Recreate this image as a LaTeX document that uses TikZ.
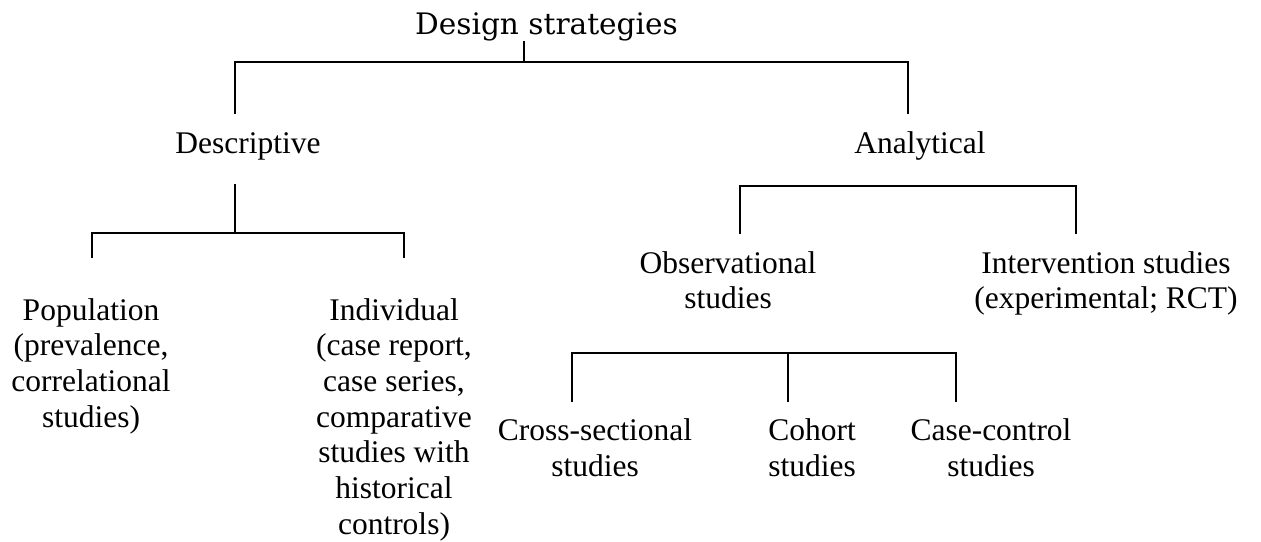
\documentclass[tikz,border=0pt]{standalone}
\usepackage{fontspec}
\setmainfont{Liberation Serif}
\newfontfamily\titlefont{DejaVu Serif}
\begin{document}
\begin{tikzpicture}[x=1pt,y=-1pt,
  lbl/.style={anchor=base,inner sep=0pt,align=center,
              font=\fontsize{31.5}{35.7}\selectfont},
  ttl/.style={anchor=base,inner sep=0pt,
              font=\titlefont\fontsize{29.6}{33}\selectfont},
  bracket/.style={line width=1.6pt,line cap=rect}]
\useasboundingbox (0,0) rectangle (1261,541);

% labels (anchored at the baseline of their last line)
\node[ttl] (root) at (546.5,34) {Design strategies};
\node[lbl] (desc) at (248,153) {Descriptive};
\node[lbl] (anal) at (920,153) {Analytical};
\node[lbl] (pop)  at (91,427.1)  {Population\\(prevalence,\\correlational\\studies)};
\node[lbl] (ind)  at (394,534.2) {Individual\\(case report,\\case series,\\comparative\\studies with\\historical\\controls)};
\node[lbl] (obs)  at (728,308.7) {Observational\\studies};
\node[lbl] (int)  at (1106,308.7) {Intervention studies\\(experimental; RCT)};
\node[lbl] (cross) at (595,476) {Cross-sectional\\studies};
\node[lbl] (coh)   at (812,476) {Cohort\\studies};
\node[lbl] (cc)    at (991,476) {Case-control\\studies};

% bracket points
\coordinate (r0) at (524,42);  \coordinate (rj) at (524,62);
\coordinate (rl) at (235,62);  \coordinate (rr) at (908,62);
\coordinate (rlb) at (235,113); \coordinate (rrb) at (908,113);

\coordinate (d0) at (235,185); \coordinate (dj) at (235,233);
\coordinate (dl) at (92,233);  \coordinate (dr) at (404,233);
\coordinate (dlb) at (92,257); \coordinate (drb) at (404,257);

\coordinate (al) at (740,186); \coordinate (ar) at (1076,186);
\coordinate (alb) at (740,233); \coordinate (arb) at (1076,233);

\coordinate (ol) at (572,353); \coordinate (om) at (788,353); \coordinate (or) at (956,353);
\coordinate (olb) at (572,401); \coordinate (omb) at (788,401); \coordinate (orb) at (956,401);

% brackets
\draw[bracket] (r0) -- (rj);
\draw[bracket] (rlb) -- (rl) -- (rr) -- (rrb);
\draw[bracket] (d0) -- (dj);
\draw[bracket] (dlb) -- (dl) -- (dr) -- (drb);
\draw[bracket] (alb) -- (al) -- (ar) -- (arb);
\draw[bracket] (olb) -- (ol) -- (or) -- (orb);
\draw[bracket] (om) -- (omb);
\end{tikzpicture}
\end{document}
